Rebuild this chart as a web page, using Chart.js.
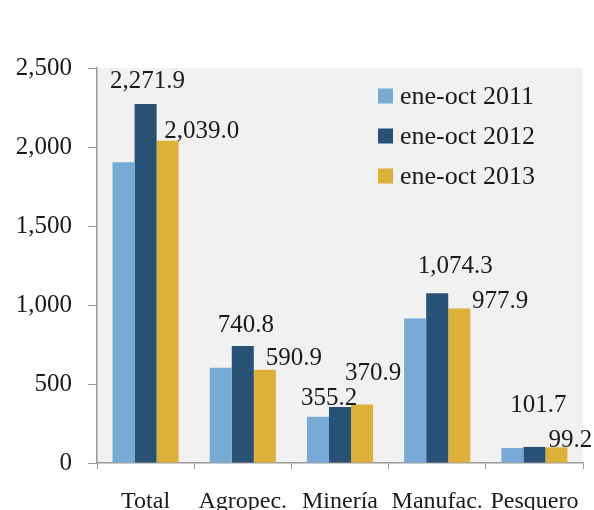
<!DOCTYPE html>
<html>
<head>
<meta charset="utf-8">
<script src="https://cdn.jsdelivr.net/npm/chart.js"></script>
<style>
  html, body { margin: 0; padding: 0; background: #fff; overflow: hidden; }
  .chart-box { width: 594px; height: 510px; }
</style>
</head>
<body>
<div class="chart-box"><canvas id="exportChart" width="594" height="510"></canvas></div>
<script>
var categories = ['Total', 'Agropec.', 'Minería', 'Manufac.', 'Pesquero'];
var seriesNames = ['ene-oct 2011', 'ene-oct 2012', 'ene-oct 2013'];
var values2011 = [1903, 603, 292, 914, 95];
var values2012 = [2271.9, 740.8, 355.2, 1074.3, 101.7];
var values2013 = [2039.0, 590.9, 370.9, 977.9, 99.2];
var yTicks = [0, 500, 1000, 1500, 2000, 2500];

var colors = ['#77aad4', '#275275', '#ddb038'];
var serif = '"Liberation Serif", "Times New Roman", serif';

// label placement tweaks per bar: [dx from bar centre, rise of digit top above bar top]
var labelPlace = {
    1: [[2, 33], [3, 31], [-11, 19], [18, 37], [4, 52]],
    2: [[34, 20], [29, 22], [11, 41], [41, 17], [14, 17]]
};

function fmt(v, dec) {
    return v.toLocaleString('en-US', { minimumFractionDigits: dec, maximumFractionDigits: dec });
}

var plotBg = {
    id: 'plotBg',
    beforeDraw: function (chart) {
        var a = chart.chartArea, c = chart.ctx;
        c.save();
        c.fillStyle = '#f1f1f1';
        c.fillRect(a.left, a.top, a.right - a.left, a.bottom - a.top);
        c.restore();
    }
};

var barLabels = {
    id: 'barLabels',
    afterDatasetsDraw: function (chart) {
        var c = chart.ctx;
        c.save();
        c.font = '25px ' + serif;
        c.fillStyle = '#1a1a1a';
        c.textAlign = 'center';
        c.textBaseline = 'alphabetic';
        Object.keys(labelPlace).forEach(function (di) {
            var meta = chart.getDatasetMeta(di);
            var ds = chart.data.datasets[di];
            meta.data.forEach(function (bar, i) {
                var p = labelPlace[di][i];
                c.fillText(fmt(ds.data[i], 1), bar.x + p[0], bar.y - p[1] + 17);
            });
        });
        c.restore();
    }
};

var boxLegend = {
    id: 'boxLegend',
    afterDraw: function (chart) {
        var a = chart.chartArea, c = chart.ctx;
        c.save();
        c.font = '26px ' + serif;
        c.textBaseline = 'middle';
        c.textAlign = 'left';
        chart.data.datasets.forEach(function (ds, i) {
            var cy = a.top + 28 + i * 40;
            var x = a.right - 205;
            c.fillStyle = ds.backgroundColor;
            c.fillRect(x, cy - 7.5, 15, 15);
            c.fillStyle = '#1a1a1a';
            c.fillText(ds.label, x + 22, cy + 1);
        });
        c.restore();
    }
};

var ctx = document.getElementById('exportChart').getContext('2d');
new Chart(ctx, {
    type: 'bar',
    data: {
        labels: categories,
        datasets: [
            { label: seriesNames[0], data: values2011, backgroundColor: colors[0] },
            { label: seriesNames[1], data: values2012, backgroundColor: colors[1] },
            { label: seriesNames[2], data: values2013, backgroundColor: colors[2] }
        ]
    },
    options: {
        responsive: false,
        animation: false,
        layout: { padding: { top: 68, right: 11, left: 0, bottom: 0 } },
        datasets: { bar: { categoryPercentage: 0.68, barPercentage: 1 } },
        plugins: { legend: { display: false }, tooltip: { enabled: false } },
        scales: {
            x: {
                grid: { display: true, drawOnChartArea: false, drawTicks: true, tickLength: 6, color: '#9a9a9a', offset: true },
                border: { color: '#9a9a9a', width: 1.5 },
                ticks: { font: { family: serif, size: 24 }, color: '#1a1a1a', padding: 18, maxRotation: 0 },
                afterFit: function (s) { s.height = 47; s.paddingLeft = 0; s.paddingRight = 0; }
            },
            y: {
                min: 0,
                max: 2500,
                afterBuildTicks: function (s) { s.ticks = yTicks.map(function (v) { return { value: v }; }); },
                grid: { display: true, drawOnChartArea: false, drawTicks: true, tickLength: 9, color: '#9a9a9a' },
                border: { color: '#9a9a9a', width: 1.5 },
                ticks: { font: { family: serif, size: 25 }, color: '#1a1a1a', padding: 16,
                    callback: function (v) { return fmt(v, 0); } },
                afterFit: function (s) { s.width = 97; s.paddingTop = 0; s.paddingBottom = 0; }
            }
        }
    },
    plugins: [plotBg, barLabels, boxLegend]
});
</script>
</body>
</html>
